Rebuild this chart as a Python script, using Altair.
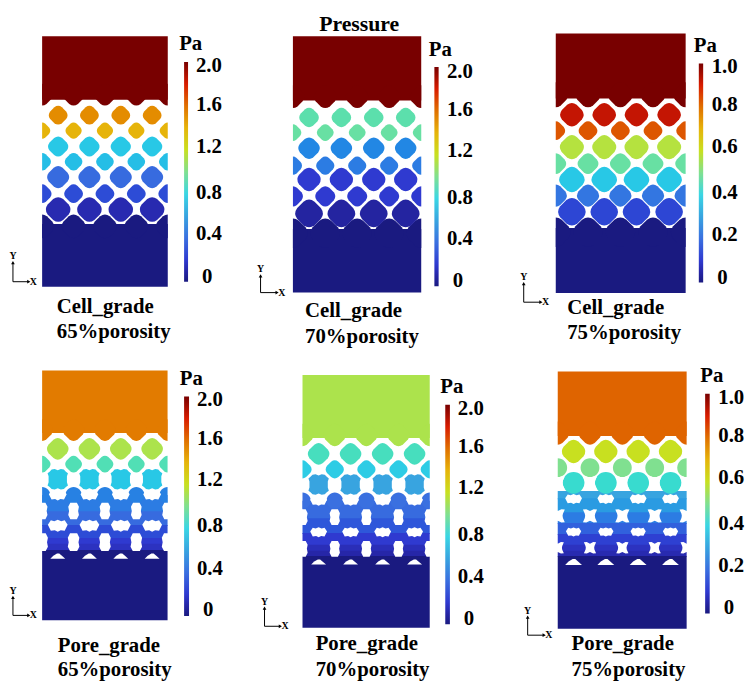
import altair as alt
import pandas as pd

# ---- colour map (fraction of the colour bar range -> colour)
STOPS = [0, .05, .1, .2, .3, .4, .5, .6, .7, .8, .9, 1]
JET = ["#1a1a80", "#2626a8", "#2f3ad0", "#3a70e0", "#38a4e0", "#3ad6e4", "#80e090",
       "#c8e020", "#e6b40a", "#e07000", "#d81c00", "#780000"]

# ---- pore shapes
DIAMOND = "M-.4,-.85Q0,-1.15 .4,-.85L.85,-.4Q1.15,0 .85,.4L.4,.85Q0,1.15 -.4,.85L-.85,.4Q-1.15,0 -.85,-.4Z"
RIGHT = "M0,-1Q.2,-1 .4,-.85L.85,-.4Q1.15,0 .85,.4L.4,.85Q.2,1 0,1Z"
LEFT = "M0,-1Q-.2,-1 -.4,-.85L-.85,-.4Q-1.15,0 -.85,.4L-.4,.85Q-.2,1 0,1Z"
EARS = "M-.6,-.95L-.3,-1L0,-.88L.3,-1L.6,-.95L.8,-.75L1,-.6L.9,-.3L.9,.3L1,.6L.8,.75L.6,.95L.3,1L0,.88L-.3,1L-.6,.95L-.8,.75L-1,.6L-.9,.3L-.9,-.3L-1,-.6L-.8,-.75Z"
ROUND = "M0,-1C.55,-1 1,-.55 1,0C1,.55 .55,1 0,1C-.55,1 -1,.55 -1,0C-1,-.55 -.55,-1 0,-1Z"
ROUND_R = "M0,-1C.55,-1 1,-.55 1,0C1,.55 .55,1 0,1Z"
ROUND_L = "M0,-1C-.55,-1 -1,-.55 -1,0C-1,.55 -.55,1 0,1Z"
HOLE_V = "M-.4,-1L.4,-1L.65,-.5L.55,0L.65,.5L.4,1L-.4,1L-.65,.5L-.55,0L-.65,-.5Z"
HOLE_H = "M-1,-.1L-.7,-.55L-.35,-.45L0,-.6L.35,-.45L.7,-.55L1,-.1L.7,.5L.3,.45L0,.6L-.3,.45L-.7,.5Z"
HOLE_FLAT = "M-1,.35L-.6,-.05L-.1,-.35L.2,-.35L.6,0L1,.35Z"
HOLE_X = "M-.95,-.85L-.5,-.9L0,-.65L.5,-.9L.95,-.85L.7,-.3L.65,0L.7,.3L.95,.85L.5,.9L0,.65L-.5,.9L-.95,.85L-.7,.3L-.65,0L-.7,-.3Z"

# ---- panels: box left, box right, box top, box bottom
BOX = [[42.5, 169.5, 33, 286], [296, 425.7, 33, 292], [561.7, 693, 30, 292.3],
       [42.5, 169.3, 370.7, 623.3], [305.7, 434.3, 375.3, 630.7], [563.7, 694, 371.7, 631.7]]
# x of the odd rows and of the even rows
ODD_X = [[58.7, 90.3, 122, 153.7], [312.3, 345, 377.7, 410], [578, 610.7, 643.3, 676.3],
         [58.3, 90.3, 122, 153.7], [322, 354.3, 386.7, 419], [579.7, 612.3, 645, 677.7]]
EVEN_X = [[42.5, 74.3, 106, 137.7, 169.5], [296, 328.7, 361, 393.3, 425.7], [561.7, 594.3, 627, 660, 693],
          [42.5, 74.3, 106, 137.7, 169.3], [305.7, 338.3, 370.3, 402.7, 434.3], [563.7, 596.3, 629, 661.7, 694]]
# pressure of the top block (fraction of the bar)
TOP_F = [1, 1, 1, .785, .57, .82]
# flat edge of top block, centre y and half size of its scallops
TOP_EDGE = [[97, 92, 11], [97.7, 94, 11.5], [95.7, 92, 12.7], [434, 431, 11], [439, 436, 11.3], [437, 434, 11.7]]
# flat edge of bottom block, centre y and half size of its scallops (half 0 = no scallop)
BOTTOM_EDGE = [[222.7, 225, 12], [227.7, 232, 15], [226.7, 231, 15], [552.3, 0, 0], [558.3, 0, 0], [558.3, 0, 0]]
# free pores: panel, y, half size, pressure, row parity (1 = odd)
P_PANEL = [0]*7 + [1]*7 + [2]*7 + [3]*4 + [4]*4 + [5]*3
P_Y = [112.7, 128.3, 144.3, 159.7, 175.3, 192, 208,
       115, 130.3, 146, 163.7, 177.7, 194.7, 212,
       112.3, 128.3, 145, 161.7, 177.7, 194, 210.3,
       450, 465.3, 480.7, 496.7,
       455, 470.7, 486, 502.3,
       452.7, 469, 484.3]
P_H = [9.5, 8.2, 10.2, 8.9, 11.2, 9.5, 12.5,
       9.9, 8.5, 10.9, 9.2, 11.9, 10.2, 14,
       11.9, 9.5, 12.2, 10.5, 12.9, 11.2, 13.9,
       10.9, 8.5, 10.3, 8.3,
       10.9, 9.2, 10.3, 8.3,
       11.9, 9.5, 11]
P_F = [.76, .70, .37, .35, .19, .13, .06,
       .47, .48, .24, .22, .10, .10, .04,
       .92, .84, .58, .48, .37, .21, .12,
       .57, .46, .37, .23,
       .45, .38, .30, .20,
       .60, .50, .43]
P_ODD = [1, 0, 1, 0, 1, 0, 1,
         1, 0, 1, 0, 1, 0, 1,
         1, 0, 1, 0, 1, 0, 1,
         1, 0, 1, 0,
         1, 0, 1, 0,
         1, 0, 1]
P_KIND = ["d"]*21 + ["d", "d", "e", "r"] + ["d", "d", "e", "r"] + ["d", "r", "r"]

# solid lattice bands of the pore-grade panels: panel, top, bottom, pressure
# (each band runs a little under the next so that no seam shows)
B_PANEL = [3]*5 + [4]*5 + [5]*7
B_Y0 = [496.7, 513, 527, 540, 546,
        502.3, 520, 535, 547, 553,
        492.6, 500, 514, 525, 536, 547, 553]
B_Y1 = [514, 528, 541, 547, 553,
        521, 536, 548, 554, 559,
        501, 515, 526, 537, 548, 554, 559]
B_F = [.22, .19, .13, .10, .08,
       .19, .15, .10, .07, .05,
       .30, .28, .22, .17, .11, .08, .06]

# white holes: panel, y, half size, shape, row parity
H_PANEL = [3]*4 + [4]*4 + [5]*5
H_Y = [496.7, 512.7, 527.7, 544.3,
       502.3, 519, 534.3, 551,
       484.3, 500.7, 517.7, 534, 550]
H_H = [9, 8.3, 10, 9,
       8.5, 8, 8.5, 8,
       7.5, 8.5, 7.5, 7.7, 6.5]
H_SHAPE = [HOLE_H, HOLE_V, HOLE_H, HOLE_V,
           HOLE_H, HOLE_V, HOLE_H, HOLE_V,
           HOLE_X, HOLE_H, HOLE_X, HOLE_H, HOLE_X]
H_ODD = [1, 0, 1, 0,
         1, 0, 1, 0,
         0, 1, 0, 1, 0]
# flat holes on the bottom block
FLAT_Y = [558.3, 564.3, 564.3]
FLAT_H = [7.5, 7.5, 8.5]

# ---- colour bars: left, right, top, bottom
BAR = [[186, 190, 59, 281], [439, 443.3, 64, 285.7], [706.3, 710.7, 60.3, 281.7],
       [186, 191, 397, 619], [450, 454.7, 405.3, 627.3], [712.7, 717.3, 394.3, 616.3]]
BAR_TICKS = [["2.0", "1.6", "1.2", "0.8", "0.4", "0"]]*2 + [["1.0", "0.8", "0.6", "0.4", "0.2", "0"]] + \
            [["2.0", "1.6", "1.2", "0.8", "0.4", "0"]]*2 + [["1.0", "0.8", "0.6", "0.4", "0.2", "0"]]
BAR_LABEL_X = [198, 451.7, 719.3, 199, 462.7, 726]
BAR_ZERO_X = [204, 457.5, 725, 205, 468.7, 731.5]
BAR_LABEL_Y = [[62, 101.7, 143.7, 190, 232, 275], [68.3, 106, 148.3, 195, 237.3, 279.3],
               [63.3, 101.7, 144, 190.7, 232.7, 276], [400, 439.3, 480.7, 527.3, 570, 612.3],
               [408.3, 446.7, 489, 535.7, 578.3, 620.7], [397.7, 435.7, 478.3, 525, 567.3, 610]]
PA_X = [181, 433.3, 701.3, 181.7, 445, 707.7]
PA_Y = [40, 45.7, 41.7, 378.3, 386.7, 375.7]

# ---- captions
LINE1 = ["Cell_grade"]*3 + ["Pore_grade"]*3
LINE2 = ["65%porosity", "70%porosity", "75%porosity"]*2
CAP_X = [57.3, 308.3, 573.3, 58.3, 319, 577.7]
CAP_Y1 = [313, 316.7, 313.7, 655.7, 653.3, 653]
CAP_Y2 = [338, 342.7, 339, 680, 679.3, 679.3]

# ---- coordinate triads: origin x, origin y, top of Y arrow, end of X arrow
TRIAD = [[13, 281, 261.7, 29], [263.3, 292, 275, 280], [529.3, 301.7, 283, 546.7],
         [13, 618.3, 600, 29], [267.3, 629.3, 611, 283.3], [533.3, 638.3, 620, 550]]

SERIF = "Liberation Serif"

# ---- tables
rects, pts, holes, bars, texts, small, rules, heads = [], [], [], [], [], [], [], []
for i, (x0, x1, y0, y1) in enumerate(BOX):
    top_edge, top_y, top_h = TOP_EDGE[i]
    bot_edge, bot_y, bot_h = BOTTOM_EDGE[i]
    rects.append(dict(x=x0, x2=x1, y=y0, y2=top_edge, f=TOP_F[i]))
    for j, cx in enumerate(EVEN_X[i]):
        path = RIGHT if j == 0 else LEFT if j == 4 else DIAMOND
        pts.append(dict(x=cx, y=top_y, s=4*top_h**2, p=path, f=TOP_F[i]))
        if bot_h:
            pts.append(dict(x=cx, y=bot_y, s=4*bot_h**2, p=path, f=0))

for pn, y0, y1, f in zip(B_PANEL, B_Y0, B_Y1, B_F):
    rects.append(dict(x=BOX[pn][0], x2=BOX[pn][1], y=y0, y2=y1, f=f))
for i, (x0, x1, y0, y1) in enumerate(BOX):
    rects.append(dict(x=x0, x2=x1, y=BOTTOM_EDGE[i][0], y2=y1, f=0))

for pn, y, h, f, odd, kind in zip(P_PANEL, P_Y, P_H, P_F, P_ODD, P_KIND):
    xs = ODD_X[pn] if odd else EVEN_X[pn]
    for j, cx in enumerate(xs):
        if odd:
            path = {"d": DIAMOND, "e": EARS, "r": ROUND}[kind]
        elif j == 0:
            path = ROUND_R if kind == "r" else RIGHT
        elif j == len(xs) - 1:
            path = ROUND_L if kind == "r" else LEFT
        else:
            path = ROUND if kind == "r" else DIAMOND
        pts.append(dict(x=cx, y=y, s=4*h**2, p=path, f=f))

for pn, y, h, shp, odd in zip(H_PANEL, H_Y, H_H, H_SHAPE, H_ODD):
    for cx in (ODD_X[pn] if odd else EVEN_X[pn]):
        holes.append(dict(x=cx, y=y, s=4*h**2, p=shp))
for pn, y, h in zip([3, 4, 5], FLAT_Y, FLAT_H):
    for cx in ODD_X[pn]:
        holes.append(dict(x=cx, y=y, s=4*h**2, p=HOLE_FLAT))

for i in range(6):
    bars.append(dict(x=BAR[i][0], x2=BAR[i][1], y=BAR[i][2], y2=BAR[i][3]))
    for lab, ly in zip(BAR_TICKS[i], BAR_LABEL_Y[i]):
        texts.append(dict(x=BAR_ZERO_X[i] if lab == "0" else BAR_LABEL_X[i], y=ly + 7, t=lab))
    texts.append(dict(x=PA_X[i], y=PA_Y[i] + 7, t="Pa"))
    texts.append(dict(x=CAP_X[i], y=CAP_Y1[i], t=LINE1[i]))
    texts.append(dict(x=CAP_X[i], y=CAP_Y2[i], t=LINE2[i]))
    ox, oy, ty, ex = TRIAD[i]
    rules.append(dict(x=ox, x2=ox, y=oy, y2=ty))
    rules.append(dict(x=ox, x2=ex, y=oy, y2=oy))
    heads.append(dict(x=ox, y=ty, shape="triangle-up"))
    heads.append(dict(x=ex, y=oy, shape="triangle-right"))
    small.append(dict(x=ox, y=ty - 6.5, t="Y"))
    small.append(dict(x=ex + 4.7, y=oy, t="X"))

X = alt.X("x:Q", scale=alt.Scale(domain=[8, 754], nice=False, zero=False), axis=None)
Y = alt.Y("y:Q", scale=alt.Scale(domain=[687, 8], nice=False, zero=False), axis=None)
COLOR = alt.Color("f:Q", scale=alt.Scale(domain=STOPS, range=JET), legend=None)

rect_layer = alt.Chart(pd.DataFrame(rects)).mark_rect().encode(x=X, x2="x2:Q", y=Y, y2="y2:Q", color=COLOR)
pt_layer = alt.Chart(pd.DataFrame(pts)).mark_point(filled=True, opacity=1, strokeWidth=0).encode(
    x=X, y=Y, color=COLOR,
    shape=alt.Shape("p:N", scale=None), size=alt.Size("s:Q", scale=None))
hole_layer = alt.Chart(pd.DataFrame(holes)).mark_point(filled=True, opacity=1, strokeWidth=0, color="white").encode(
    x=X, y=Y, shape=alt.Shape("p:N", scale=None), size=alt.Size("s:Q", scale=None))
gradient = alt.Gradient(gradient="linear", x1=0, y1=1, x2=0, y2=0,
                        stops=[alt.GradientStop(offset=o, color=c) for o, c in zip(STOPS, JET)])
bar_layer = alt.Chart(pd.DataFrame(bars)).mark_rect(color=gradient).encode(x=X, x2="x2:Q", y=Y, y2="y2:Q")
rule_layer = alt.Chart(pd.DataFrame(rules)).mark_rule(color="black", strokeWidth=1).encode(x=X, x2="x2:Q", y=Y, y2="y2:Q")
head_layer = alt.Chart(pd.DataFrame(heads)).mark_point(filled=True, opacity=1, color="black", size=14).encode(
    x=X, y=Y, shape=alt.Shape("shape:N", scale=None))
text_layer = alt.Chart(pd.DataFrame(texts)).mark_text(
    font=SERIF, fontWeight="bold", fontSize=21, align="left", baseline="alphabetic", color="black"
).encode(x=X, y=Y, text="t:N")
small_layer = alt.Chart(pd.DataFrame(small)).mark_text(
    font=SERIF, fontWeight="bold", fontSize=10, align="center", baseline="middle", color="black"
).encode(x=X, y=Y, text="t:N")
title_layer = alt.Chart(pd.DataFrame([dict(x=363, y=28, t="Pressure")])).mark_text(
    font=SERIF, fontWeight="bold", fontSize=22, align="center", baseline="alphabetic", color="black"
).encode(x=X, y=Y, text="t:N")

chart = alt.layer(
    rect_layer, pt_layer, hole_layer, bar_layer, rule_layer, head_layer,
    text_layer, small_layer, title_layer
).properties(
    width=746, height=679, padding=0, background="white", autosize=alt.AutoSizeParams(type="none")
).configure_view(stroke=None)

chart.save("out.html", embed_options={"renderer": "svg", "actions": False})
